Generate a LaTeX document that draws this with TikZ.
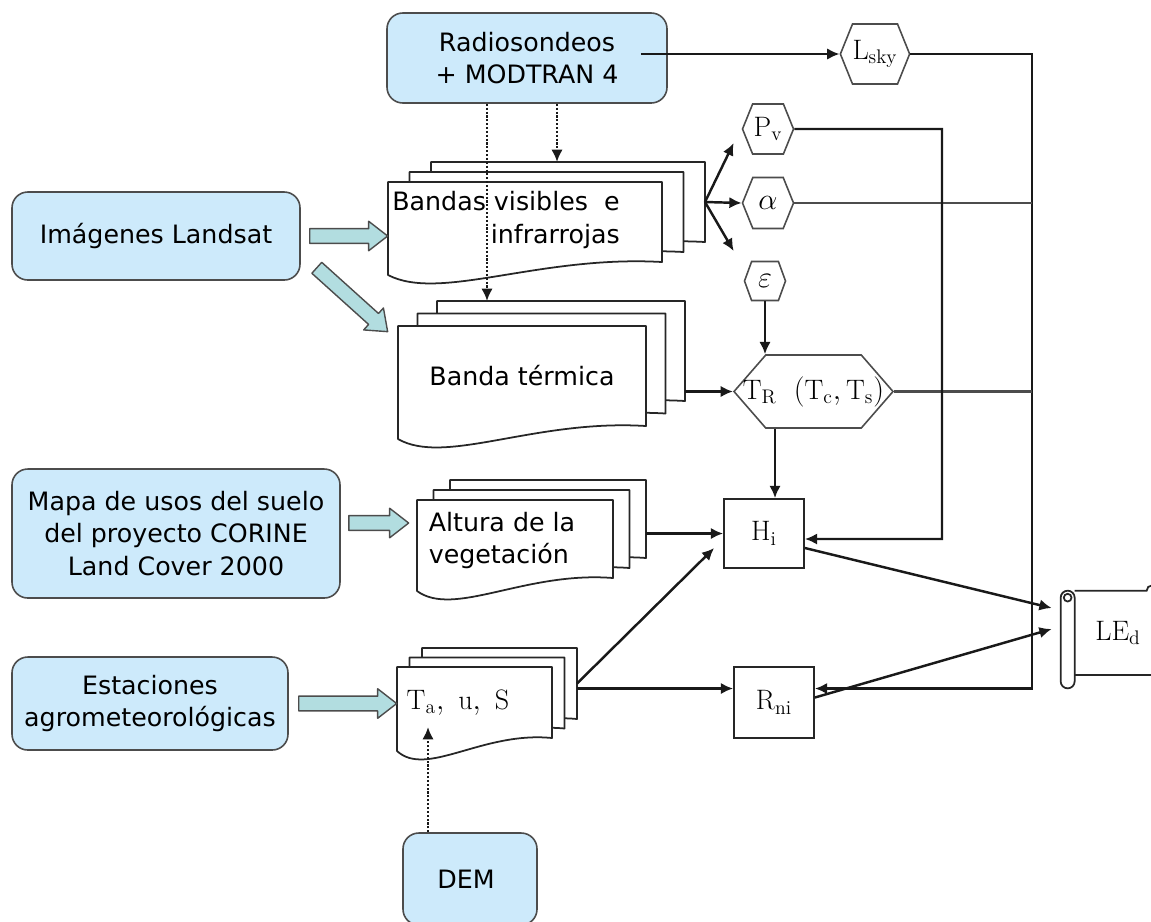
\documentclass[tikz,border=0pt]{standalone}
\usepackage{fontspec}
\setsansfont{DejaVu Sans}
\usetikzlibrary{shapes.symbols,arrows.meta,calc}

\newdimen\pxlen
\pxlen=0.02cm

\definecolor{inputcolor}{RGB}{205,234,251}
\definecolor{fatarrowcolor}{RGB}{178,221,224}
\colorlet{bordercolor}{black!70}
\colorlet{linecolor}{black!90}

\newcommand{\boxfont}{\sffamily\fontsize{14.4}{18.6}\selectfont}
\newcommand{\symfont}{\fontsize{16}{19}\selectfont}

\tikzset{inputbox/.style 2 args={draw=bordercolor, line width=0.9pt, fill=inputcolor, rounded corners=9pt, minimum width={#1*\pxlen}, minimum height={#2*\pxlen}, inner sep=0pt, align=center, font=\boxfont},%
    hexbox/.style n args={3}{shape=signal, signal to=east and west, signal pointer angle=#3, draw=bordercolor, line width=0.9pt, fill=white, minimum width={#1*\pxlen}, minimum height={#2*\pxlen}, inner sep=0pt, font=\symfont},%
    calcbox/.style 2 args={draw=black!85, line width=1pt, fill=white, minimum width={#1*\pxlen}, minimum height={#2*\pxlen}, inner sep=0pt, font=\symfont},%
    scrollbox/.style 2 args={minimum width={#1*\pxlen}, minimum height={#2*\pxlen}, inner sep=0pt, font=\symfont},%
    scrollline/.style={draw=black!85, line width=1pt},%
    docpage/.style={draw=black!85, line width=1pt, fill=white, line join=round},%
    docarea/.style={inner sep=0pt},%
    doctext/.style={font=\boxfont},%
    fatarrow/.style={draw=bordercolor, fill=fatarrowcolor, line width=0.8pt, line join=round},%
    conn/.style={-{Latex[length=7pt,width=6.5pt]}, line width=1.4pt, draw=linecolor},%
    wire/.style={line width=1.2pt, draw=black!70},%
    dotconn/.style={conn, dash pattern=on 1.2pt off 1pt, line width=1.4pt}%
}

% stack of three pages, front page gets the name
\newcommand{\docstack}[9]{%
    \foreach \k in {2,1,0}
        \draw[docpage] ({#2+\k*#6},{#3-\k*#7}) -- ++(#4,0) -- ++(0,#5)
            .. controls +({-0.45*#4},-7) and +({0.19*#4},27) .. ({#2+\k*#6},{#3-\k*#7+#5+13}) -- cycle;
    \node[docarea, minimum width={#4*\pxlen}, minimum height={#5*\pxlen}, label={[doctext,#9]center:{#8}}] (#1) at ({#2+#4/2},{#3+#5/2}) {};
    \coordinate (#1-back) at ({#2+2*#6+#4},{#3-2*#7+#5/2});
    \coordinate (#1-top) at ({#2+2*#6},{#3-2*#7});
}

% broad outlined arrow between two points
\newcommand{\fatarrow}[2]{%
    \draw[fatarrow] let \p1=(#1), \p2=(#2), \p3=($(\p2)!10.8pt!(\p1)$) in
        ($(\p1)!4.2pt!90:(\p2)$) -- ($(\p3)!4.2pt!90:(\p2)$) -- ($(\p3)!8.4pt!90:(\p2)$) -- (\p2)
        -- ($(\p3)!8.4pt!-90:(\p2)$) -- ($(\p3)!4.2pt!-90:(\p2)$) -- ($(\p1)!4.2pt!-90:(\p2)$) -- cycle;
}

\begin{document}
\begin{tikzpicture}[x=0.02cm, y=-0.02cm]
    \useasboundingbox (0,0) rectangle (1151,921);
    \begin{scope} %input boxes
        \foreach \nodename/\w/\h/\xpos/\ypos/\content in {%
                radio/280/90/527/58/{Radiosondeos\\+ MODTRAN 4},
                landsat/288/88/156/236/{Imágenes Landsat},
                mapa/328/129/176/533.5/{Mapa de usos del suelo\\del proyecto CORINE\\Land Cover 2000},
                estac/276/93/150/703.5/{Estaciones\\agrometeorológicas},
                dem/134/92/470/879/{DEM}
            } \node[inputbox={\w}{\h}] (\nodename) at (\xpos, \ypos) {\content};
    \end{scope}
    \begin{scope} %document stacks
        \docstack{bandas}{388}{182}{274}{80}{21.5}{10}{Bandas visibles\ \ e\\infrarrojas}{align=right, shift={(-19,-2)}}
        \docstack{termica}{398}{326}{248}{100}{19.5}{12.5}{Banda térmica}{}
        \docstack{altura}{417}{500}{196}{78}{16.5}{10}{Altura de la\\vegetación}{align=left, shift={(-13,1.5)}}
        \docstack{tas}{397}{667}{155}{71}{12.5}{9.5}{\symfont$\mathrm{T_a,\ u,\ S}$}{shift={(-16.5,0)}}
    \end{scope}
    \begin{scope} %broad arrows
        \fatarrow{[shift={(9,0)}]landsat.east}{landsat.east -| bandas.west}
        \fatarrow{[shift={(16,-13)}]landsat.south east}{[shift={(-10,6)}]termica.north west}
        \fatarrow{[shift={(8,-10.5)}]mapa.east}{[shift={(-8,-16)}]altura.west}
        \fatarrow{[shift={(10,0)}]estac.east}{estac.east -| tas.west}
    \end{scope}
    \begin{scope} %hexagons and boxes
        \foreach \nodename/\w/\h/\tip/\xpos/\ypos/\content in {%
                lsky/65/60/136/875/54/{$\mathrm{L_{sky}}$},
                pv/51/50/136/768/129/{$\mathrm{P_v}$},
                alpha/51/51/136/768/203/{$\alpha$},
                eps/41/39/140/765/281/{$\varepsilon$},
                tr/159/73/98/813.5/391.5/{\makebox[40pt]{$\mathrm{T_R}\ \ (\mathrm{T_c},\mathrm{T_s})$}}
            } \node[hexbox={\w}{\h}{\tip}] (\nodename) at (\xpos, \ypos) {\content};
        \foreach \nodename/\w/\h/\xpos/\ypos/\content in {%
                hi/80/69/764/533.5/{$\mathrm{H_i}$},
                rni/80/71/774/702.5/{$\mathrm{R_{ni}}$}
            } \node[calcbox={\w}{\h}] (\nodename) at (\xpos, \ypos) {\content};
        \node[scrollbox={86}{84}] (led) at (1118, 633) {$\mathrm{LE_d}$};
        \draw[scrollline] (led.north west) -- ([shift={(72,0)}]led.north west) arc[start angle=180, end angle=0, radius=3pt];
        \draw[scrollline] (led.south west) -- ([shift={(100,0)}]led.south west);
        \draw[scrollline, rounded corners=4pt] ([shift={(-14,0)}]led.north west) rectangle ([shift={(0,13)}]led.south west);
        \draw[scrollline] ([shift={(-7,7)}]led.north west) circle[radius=2.2pt];
    \end{scope}
    \begin{scope} %connections
        \coordinate (rbus) at (1032, 688.5);
        \coordinate (hbus) at (942, 539);
        \coordinate (tas-in) at (428, 727);
        \draw[conn] ([shift={(-27,-4)}]radio.east) -- (lsky.west);
        \draw[dotconn] ([shift={(-40,0)}]radio.south) -- ([shift={(-40,0)}]radio.south |- termica-top);
        \draw[dotconn] ([shift={(30,0)}]radio.south) -- ([shift={(30,0)}]radio.south |- bandas-top);
        \draw[dotconn] (dem.north -| tas-in) -- (tas-in);
        \draw[conn] (lsky.east) -| (rbus) -- ([shift={(0,-14)}]rni.east);
        \draw[wire] (alpha.east) -- (alpha.east -| rbus);
        \draw[wire] (tr.east) -- (tr.east -| rbus);
        \draw[conn] (pv.east) -| (hbus) -- ([shift={(0,5.5)}]hi.east);
        \draw[conn] (bandas-back) -- ([shift={(-8,14)}]pv.west);
        \draw[conn] (bandas-back) -- (alpha.west);
        \draw[conn] (bandas-back) -- ([shift={(-10,-30)}]eps.west);
        \draw[conn] (tr.west -| termica-back) -- (tr.west);
        \draw[conn] (eps.south) -- (eps.south |- tr.north);
        \draw[conn] ([shift={(11,0)}]hi.north |- tr.south) -- ([shift={(11,0)}]hi.north);
        \draw[conn] (hi.west -| altura-back) -- (hi.west);
        \draw[conn] (tas-back) -- ([shift={(-9,14.5)}]hi.west);
        \draw[conn] ([shift={(0,-14)}]rni.west -| tas-back) -- ([shift={(0,-14)}]rni.west);
        \draw[conn] ([shift={(0,14.5)}]hi.east) -- ([shift={(-23,-25)}]led.west);
        \draw[conn] ([shift={(0,-5)}]rni.east) -- ([shift={(-23,-4)}]led.west);
    \end{scope}
\end{tikzpicture}
\end{document}
